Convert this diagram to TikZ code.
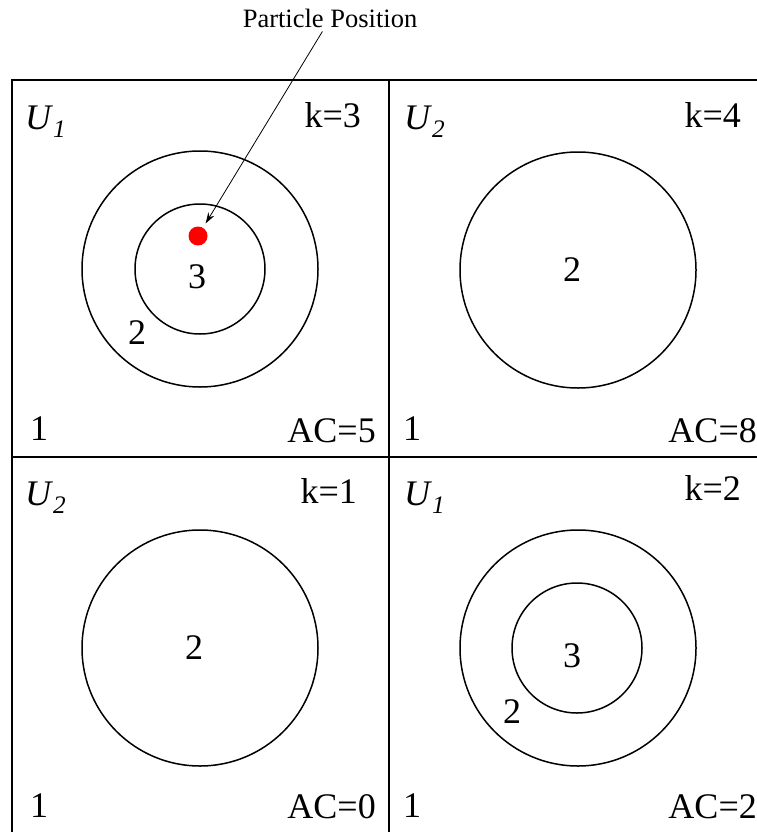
\documentclass[tikz,border=0pt]{standalone}
\usepackage{fontspec}
\setmainfont{Liberation Serif}
\usetikzlibrary{arrows.meta,positioning}
\newcommand{\ucell}[1]{\textit{U}\textsubscript{\textit{#1}}}

\begin{document}
\begin{tikzpicture}[
    x=1pt, y=-1pt,
    >={Stealth[length=11pt,width=7pt]},
    grid/.style={line width=2.2pt},
    ring/.style={line width=1.5pt},
    lbl/.style={inner sep=0pt, font=\rmfamily\fontsize{36}{42}\selectfont},
    note/.style={inner sep=3pt, font=\rmfamily\fontsize{26.5}{31}\selectfont}
]
\useasboundingbox (0,0) rectangle (757,832);
\clip (0,0) rectangle (757,832);

% the four cells
\draw[grid] (12,80) rectangle (766,836);
\draw[grid] (389,80) -- (389,836);
\draw[grid] (12,457) -- (766,457);

% top left
\draw[ring] (200,269) circle[radius=118pt];
\draw[ring] (200,269) circle[radius=65pt];
\node[lbl, anchor=base west] (uA) at (25,129) {\ucell{1}};
\node[lbl, anchor=base east] (kA) at (361,128) {k=3};
\node[lbl] (inA) at (197,277) {3};
\node[lbl] (midA) at (137,333) {2};
\node[lbl, anchor=base west] (outA) at (30,440) {1};
\node[lbl, anchor=base east] (acA) at (376,442) {AC=5};
\node[circle, fill=red, minimum size=19pt, inner sep=0pt] (dot) at (198,236) {};

% top right
\draw[ring] (578,270) circle[radius=118pt];
\node[lbl, anchor=base west] (uB) at (404,129) {\ucell{2}};
\node[lbl, anchor=base east] (kB) at (741,128) {k=4};
\node[lbl] (midB) at (572,270) {2};
\node[lbl, anchor=base west] (outB) at (403,440) {1};
\node[lbl, anchor=base east] (acB) at (757,442) {AC=8};

% bottom left
\draw[ring] (200,648) circle[radius=118pt];
\node[lbl, anchor=base west] (uC) at (25,505) {\ucell{2}};
\node[lbl, anchor=base east] (kC) at (357,503) {k=1};
\node[lbl] (midC) at (194,648) {2};
\node[lbl, anchor=base west] (outC) at (30,817) {1};
\node[lbl, anchor=base east] (acC) at (376,818) {AC=0};

% bottom right
\draw[ring] (578,648) circle[radius=118pt];
\draw[ring] (577,648) circle[radius=65pt];
\node[lbl, anchor=base west] (uD) at (404,505) {\ucell{1}};
\node[lbl, anchor=base east] (kD) at (741,500) {k=2};
\node[lbl] (inD) at (572,656) {3};
\node[lbl] (midD) at (512,712) {2};
\node[lbl, anchor=base west] (outD) at (403,817) {1};
\node[lbl, anchor=base east] (acD) at (757,818) {AC=2};

% particle label
\node[note, anchor=base] (pos) at (330,28) {Particle Position};
\draw[->, line width=0.8pt, shorten >=5pt] (pos) -- (dot);
\end{tikzpicture}
\end{document}
